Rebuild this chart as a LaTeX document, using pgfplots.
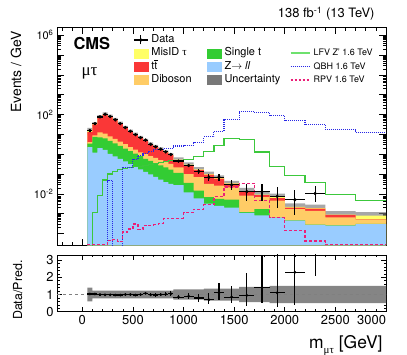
\documentclass[border=0pt]{standalone}
\usepackage{fontspec}
\setmainfont{TeX Gyre Heros}
\newfontfamily\greek{Liberation Serif}
\usepackage{pgfplots}
\usepackage{pgfplotstable}
\pgfplotsset{compat=1.18}
\usepgfplotslibrary{fillbetween}

\definecolor{misid}{RGB}{255,255,102}
\definecolor{ttbar}{RGB}{250,55,55}
\definecolor{dibo}{RGB}{255,204,102}
\definecolor{stop}{RGB}{51,204,51}
\definecolor{dy}{RGB}{153,204,255}
\definecolor{unc}{RGB}{120,120,120}
\definecolor{lfv}{RGB}{60,200,60}
\definecolor{lfvleg}{RGB}{110,225,110}
\definecolor{qbh}{RGB}{40,40,230}
\definecolor{rpv}{RGB}{235,30,120}

\newcommand\fs[1]{\fontsize{#1}{#1}\selectfont}

% stacked backgrounds, cumulative tops per bin (Events/GeV), rel. uncertainty
\pgfplotstableread{
lo    Z        G        O       R       T       u
50    2.3      3.4      4.1     12.8    15.0    0.40
100   1.2      7.4      8.9     32.0    34.0    0.22
150   2.0      7.1      12.6    73.7    76.0    0.22
200   1.66     6.3      11.0    103     106     0.22
250   1.05     4.7      7.9     79.4    81      0.22
300   0.78     3.5      5.9     54.9    56      0.22
350   0.58     2.6      4.3     35.3    36      0.22
400   0.43     1.9      3.2     21.6    22      0.22
450   0.32     1.45     2.3     14.0    14.3    0.22
500   0.23     1.07     1.7     9.8     10.0    0.22
550   0.17     0.79     1.23    6.76    6.9     0.22
600   0.13     0.59     1.0     4.7     4.8     0.22
650   0.095    0.46     0.79    3.14    3.2     0.22
700   0.071    0.355    0.65    2.4     2.45    0.22
750   0.052    0.275    0.51    1.76    1.8     0.22
800   0.039    0.214    0.42    1.25    1.28    0.22
850   0.032    0.166    0.33    0.90    0.92    0.22
900   0.028    0.115    0.22    0.50    0.53    0.30
1000  0.012    0.036    0.10    0.28    0.30    0.30
1100  0.006    0.0148   0.069   0.16    0.17    0.30
1200  0.0032   0.0068   0.032   0.093   0.099   0.35
1300  0.0025   0.0056   0.026   0.059   0.063   0.35
1400  0.002    0.0051   0.021   0.032   0.034   0.35
1550  0.0011   0.0012   0.0081  0.0128  0.0137  0.45
1700  0.00083  0.0017   0.0068  0.0087  0.0093  0.45
1850  0.00063  0.00064  0.0046  0.0062  0.0068  0.50
2000  0.00045  0.00046  0.0017  0.0020  0.0022  0.50
2200  0.00027  0.00028  0.0014  0.0018  0.0019  0.50
2400  0.00025  0.00026  0.00066 0.00088 0.0009  0.50
2700  0.0003   0.00031  0.0005  0.00052 0.0008  0.50
3000  0.0003   0.00031  0.0005  0.00052 0.0008  0.50
}\bkg

% signal hypotheses
\pgfplotstableread{
lo    LFV     QBH     RPV
50    1e-7    1e-7    2.8e-5
100   0.0011  1e-7    2.8e-5
150   0.008   1e-7    2.8e-5
200   0.05    1e-7    2.8e-5
250   0.10    0.047   4.5e-5
300   0.14    1e-7    5e-5
350   0.17    1e-7    4e-5
400   0.19    0.22    1.2e-4
450   0.21    0.22    1.7e-4
500   0.23    0.57    3.0e-4
550   0.25    0.9     1.6e-4
600   0.28    1.07    2.5e-4
650   0.31    1.3     2.6e-4
700   0.34    1.7     2.8e-4
750   0.38    1.7     3.2e-4
800   0.42    1.9     5.5e-4
850   0.46    2.0     6e-4
900   0.5     2.6     6e-4
1000  0.55    2.8     1.1e-3
1100  0.8     4.1     1.7e-3
1200  1.38    7.7     2.9e-3
1300  2.8     14.5    7.5e-3
1400  6.1     54      0.022
1550  5.4     140     0.034
1700  1.28    130     4.6e-3
1850  0.25    90      6.2e-4
2000  0.085   52      1.4e-4
2200  0.036   32      4.2e-5
2400  0.0089  17.4    2.8e-5
2700  0.0046  12      2.8e-5
3000  0.0046  12      2.8e-5
}\sig

% data and data/prediction
\pgfplotstableread{
xc    D       ex   eyp     eym     r     rp    rm
75    15.5    25   0.56    0.56    1.03  0.04  0.04
125   35      25   0.84    0.84    1.03  0.025 0.025
175   76      25   1.23    1.23    1.0   0.016 0.016
225   104     25   1.44    1.44    0.98  0.014 0.014
275   79.4    25   1.26    1.26    0.98  0.016 0.016
325   54.3    25   1.04    1.04    0.97  0.02  0.02
375   34.9    25   0.84    0.84    0.97  0.025 0.025
425   22      25   0.66    0.66    1.0   0.03  0.03
475   14.3    25   0.53    0.53    1.0   0.037 0.037
525   9.7     25   0.44    0.44    0.97  0.045 0.045
575   6.9     25   0.37    0.37    1.0   0.054 0.054
625   5.14    25   0.32    0.32    1.07  0.066 0.066
675   3.14    25   0.25    0.25    0.98  0.08  0.08
725   2.38    25   0.22    0.22    0.97  0.09  0.09
775   1.8     25   0.19    0.19    1.0   0.1   0.1
825   1.31    25   0.16    0.16    1.02  0.125 0.125
875   0.97    25   0.14    0.14    1.05  0.15  0.15
950   0.45    50   0.067   0.067   0.85  0.13  0.13
1050  0.27    50   0.052   0.052   0.9   0.17  0.17
1150  0.136   50   0.037   0.037   0.8   0.22  0.22
1250  0.069   50   0.036   0.026   0.7   0.36  0.26
1350  0.069   50   0.036   0.026   1.1   0.57  0.41
1475  0.029   75   0.021   0.0127  0.85  0.65  0.37
1625  0.013   75   0.0176  0.0086  0.95  1.28  0.63
1775  0.013   75   0.0176  0.0086  1.4   1.9   0.92
1925  0.0075  75   0.0153  0.0055  1.1   2.25  0.8
2100  0.0051  100  0.0115  0.0042  2.3   5.2   1.9
2300  0.0105  100  0.0132  0.0065  5.5   7.0   3.4
}\dat

\begin{document}
\begin{tikzpicture}

\begin{axis}[
  at={(57bp,109.5bp)}, anchor=south west,
  scale only axis, width=329bp, height=218.2bp,
  xmin=-250, xmax=3000,
  ymode=log, ymin=2.5e-5, ymax=2.5e6, log origin y=infty,
  xtick distance=500, minor x tick num=4, xticklabel=\empty,
  ytick={1e-4,1e-3,1e-2,1e-1,1,10,100,1e3,1e4,1e5,1e6},
  yticklabels={,,{10\textsuperscript{-2}},,,,{10\textsuperscript{2}},,,,{10\textsuperscript{6}}},
  yticklabel style={font=\fs{11}},
  major tick length=7bp, minor tick length=3.5bp,
  tick style={black, line width=0.6bp},
  axis line style={line width=0.8bp},
  clip marker paths=true,
  legend columns=3, legend cell align=left,
  legend style={draw=none, fill=none, at={(0.231,0.968)}, anchor=north west,
    inner sep=0pt, row sep=2.3bp, font=\fs{11},
    nodes={inner xsep=3bp, inner ysep=0pt, text height=8bp, text depth=3bp},
    /tikz/column 2/.style={column sep=12.6bp},
    /tikz/column 4/.style={column sep=6.3bp}},
]
% stack, drawn from the cumulative total down
\addplot[const plot, draw=none, fill=misid, forget plot] table[x=lo,y=T]{\bkg} \closedcycle;
\addplot[const plot, draw=none, fill=ttbar, forget plot] table[x=lo,y=R]{\bkg} \closedcycle;
\addplot[const plot, draw=none, fill=dibo,  forget plot] table[x=lo,y=O]{\bkg} \closedcycle;
\addplot[const plot, draw=none, fill=stop,  forget plot] table[x=lo,y=G]{\bkg} \closedcycle;
\addplot[const plot, draw=none, fill=dy,    forget plot] table[x=lo,y=Z]{\bkg} \closedcycle;

% uncertainty band
\addplot[const plot, draw=none, name path=bup, forget plot]
  table[x=lo, y expr=\thisrow{T}*(1+\thisrow{u})]{\bkg};
\addplot[const plot, draw=none, name path=blo, forget plot]
  table[x=lo, y expr=\thisrow{T}*(1-\thisrow{u})]{\bkg};
\addplot[fill=unc, fill opacity=0.65, draw=none, forget plot] fill between[of=bup and blo];

% signals
\addplot[const plot, lfv, line width=1.2bp, forget plot] table[x=lo,y=LFV]{\sig};
\addplot[const plot, qbh, line width=1.1bp, dash pattern=on 1bp off 1bp, forget plot] table[x=lo,y=QBH]{\sig};
\addplot[const plot, rpv, line width=1.2bp, dash pattern=on 3bp off 2bp, forget plot] table[x=lo,y=RPV]{\sig};

% data
\addplot[only marks, mark=*, mark size=1.5bp, black, forget plot,
  error bars/.cd, x dir=both, x explicit, y dir=both, y explicit,
  error mark=none, error bar style={line width=1.2bp}]
  table[x=xc, y=D, x error=ex, y error plus=eyp, y error minus=eym]{\dat};

% legend
\addlegendimage{legend image code/.code={\draw[line width=1.2bp] (0bp,0bp)--(14bp,0bp) (7bp,-4.5bp)--(7bp,4.5bp); \fill (7bp,0bp) circle (1.6bp);}}
\addlegendentry{Data}
\addlegendimage{empty legend}\addlegendentry{}
\addlegendimage{empty legend}\addlegendentry{}
\addlegendimage{legend image code/.code={\fill[misid] (0bp,-4.5bp) rectangle (14bp,4.5bp);}}
\addlegendentry{MisID {\greek τ}}
\addlegendimage{legend image code/.code={\fill[stop] (0bp,-4.5bp) rectangle (14bp,4.5bp);}}
\addlegendentry{Single t}
\addlegendimage{legend image code/.code={\draw[draw=lfvleg, line width=2bp] (0bp,0bp)--(19bp,0bp);}}
\addlegendentry{\fs{9}LFV Z' 1.6 TeV}
\addlegendimage{legend image code/.code={\fill[ttbar] (0bp,-4.5bp) rectangle (14bp,4.5bp);}}
\addlegendentry{t\makebox[0pt][l]{\raisebox{0.78em}{\rule{0.3em}{0.06em}}}t}
\addlegendimage{legend image code/.code={\fill[dy] (0bp,-4.5bp) rectangle (14bp,4.5bp);}}
\addlegendentry{Z$\rightarrow$ \textit{ll}}
\addlegendimage{legend image code/.code={\draw[draw=qbh, line width=1.1bp, dash pattern=on 1bp off 1bp] (0bp,0bp)--(19bp,0bp);}}
\addlegendentry{\fs{9}QBH 1.6 TeV}
\addlegendimage{legend image code/.code={\fill[dibo] (0bp,-4.5bp) rectangle (14bp,4.5bp);}}
\addlegendentry{Diboson}
\addlegendimage{legend image code/.code={\fill[unc] (0bp,-4.5bp) rectangle (14bp,4.5bp);}}
\addlegendentry{Uncertainty}
\addlegendimage{legend image code/.code={\draw[draw=rpv, line width=1.4bp, dash pattern=on 2.5bp off 1.5bp] (0bp,0bp)--(19bp,0bp);}}
\addlegendentry{\fs{9}RPV 1.6 TeV}
\end{axis}

\begin{axis}[
  at={(57bp,43.3bp)}, anchor=south west,
  scale only axis, width=329bp, height=56.7bp,
  xmin=-250, xmax=3000, ymin=0, ymax=3.3,
  xtick={0,500,...,3000},
  xticklabels={0,500,1000,1500,2000,2500,{\makebox[0pt][r]{3000}}},
  minor x tick num=4,
  ytick={0,1,2,3}, minor y tick num=4,
  /pgf/number format/assume math mode=true,
  ticklabel style={font=\fs{13}},
  major tick length=5bp, minor tick length=2.5bp,
  tick style={black, line width=0.6bp},
  axis line style={line width=0.8bp},
  clip marker paths=true,
]
\draw[gray, dashed, line width=0.6bp] (axis cs:-250,1) -- (axis cs:3000,1);
\addplot[const plot, draw=none, name path=rup, forget plot]
  table[x=lo, y expr=1+\thisrow{u}]{\bkg};
\addplot[const plot, draw=none, name path=rlo, forget plot]
  table[x=lo, y expr=1-\thisrow{u}]{\bkg};
\addplot[fill=unc!90, draw=none, forget plot] fill between[of=rup and rlo];

\addplot[only marks, mark=*, mark size=1.2bp, black, forget plot,
  error bars/.cd, x dir=both, x explicit, y dir=both, y explicit,
  error mark=none, error bar style={line width=1.1bp}]
  table[x=xc, y=r, x error=ex, y error plus=rp, y error minus=rm]{\dat};
\end{axis}

% texts
\node[anchor=base west, font=\fs{16.5}\bfseries] at (70bp,305.5bp) {CMS};
\node[anchor=base west, font=\fs{17}\greek] at (78bp,279bp) {μτ};
\node[anchor=base east, font=\fs{13}] at (378bp,337bp) {138 fb\textsuperscript{-1} (13 TeV)};
\node[rotate=90, anchor=base east, font=\fs{14}] at (21bp,327bp) {Events / GeV};
\node[rotate=90, anchor=base east, font=\fs{12.5}] at (22bp,98bp) {Data/Pred.};
\node[anchor=base east, font=\fs{17.5}] at (386bp,7bp) {m\raisebox{-0.3em}{\fs{11}\greek μτ} [GeV]};

\pgfresetboundingbox
\path[use as bounding box] (0,0) rectangle (407bp,355bp);
\end{tikzpicture}
\end{document}
